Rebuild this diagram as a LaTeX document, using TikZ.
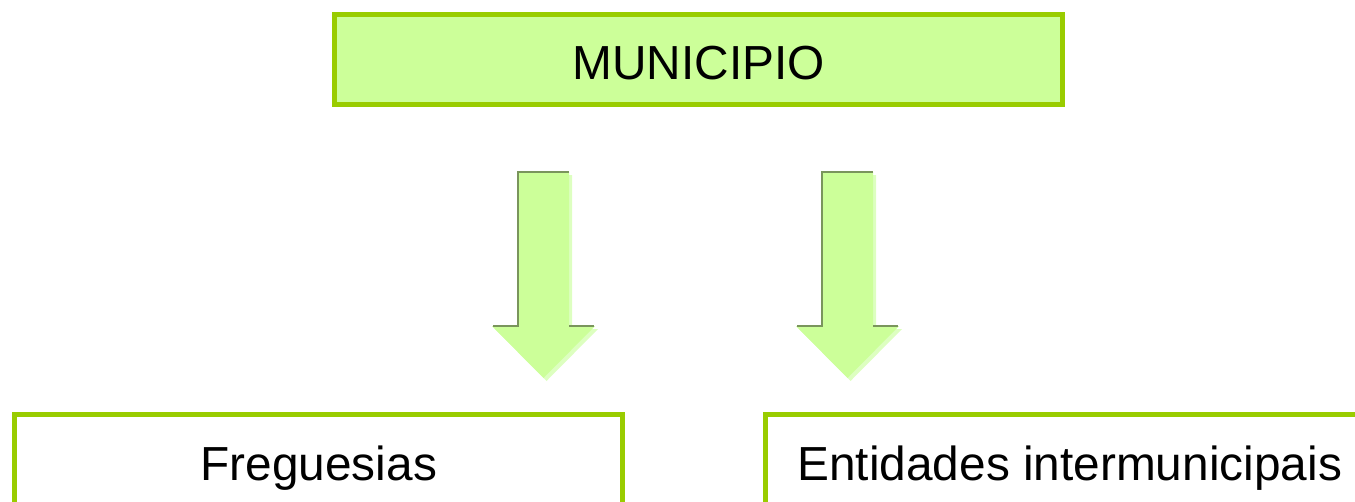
\documentclass[tikz,border=0pt]{standalone}
\usepackage{fontspec}
\setmainfont{Liberation Sans}
\definecolor{boxline}{HTML}{99CC00}
\definecolor{boxfill}{HTML}{CCFF99}
\definecolor{arrowedge}{HTML}{7A955C}
\definecolor{arrowshade}{HTML}{DDFFC0}
\begin{document}
\begin{tikzpicture}
            [x=0.02cm, y=-0.02cm,
            box/.style={draw=boxline, line width=0.1cm, rectangle, inner sep=0pt,
              minimum width=12.17cm, minimum height=1.94cm, text height=19.5pt, text depth=0pt,
              font=\fontsize{27.2}{32}\selectfont},
            topbox/.style={box, fill=boxfill, minimum width=14.57cm, minimum height=1.8cm,
              text height=22.2pt},
            blockarrow/.style={fill=boxfill},
            shade/.style={fill=arrowshade},
            bevel/.style={arrowedge, line width=0.04cm}]

            \useasboundingbox (0,0) rectangle (1355,501);
            \clip (0,0) rectangle (1355,501);

            \node[topbox] (municipio) at (698.75,59.5) {MUNICIPIO};
            \node[box] (freguesias) at (318.75,463) {Freguesias};
            \node[box] (entidades) at (1069.75,463) {Entidades intermunicipais};

            % block arrows
            \foreach \cx/\name in {543.5/left, 847.5/right} {
              \coordinate (\name top) at (\cx,172);
              \fill[shade] ([shift={(3,3)}]\name top) ++(-25.5,0) -- ++(51,0) -- ++(0,154)
                -- ++(26,0) -- ++(-51.5,52) -- ++(-51.5,-52) -- ++(26,0) -- cycle;
              \fill[blockarrow] (\name top) ++(-25.5,0) -- ++(51,0) -- ++(0,154)
                -- ++(26,0) -- ++(-51.5,52) -- ++(-51.5,-52) -- ++(26,0) -- cycle;
              \draw[bevel] (\name top) ++(25,0) -- ++(-50.5,0) -- ++(0,154) -- ++(-25,0);
              \draw[bevel] (\name top) ++(25.5,154) -- ++(25,0);
            }

        \end{tikzpicture}
\end{document}
